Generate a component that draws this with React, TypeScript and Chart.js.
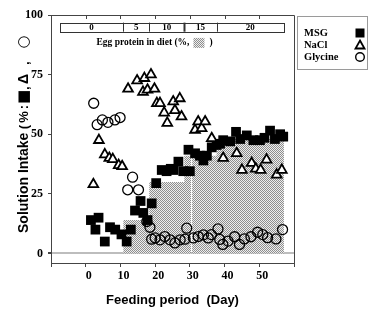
import React, { useEffect, useRef } from 'react';
import { Chart, registerables } from 'chart.js';

Chart.register(...registerables);

// ---- data ----
const msgDays = [1.5, 2.8, 3.7, 5.5, 7, 8.5, 10.3, 11.8, 13, 14.2, 15.8, 16.6, 17.8, 19, 20.3, 21.9, 23.3, 24.5, 25.3, 26.7, 28.1, 29.6, 30, 31.5, 32.9, 33.9, 34.9, 36.3, 37.7, 38.7, 39.6, 41.6, 43.3, 44.5, 46.4, 48.3, 50.2, 51.5, 53.1, 54.5, 56, 56.9];
const msgValues = [14, 10, 15, 5, 11, 10, 8, 5, 10, 18, 22, 17, 14, 21, 29.5, 35, 34.5, 35.5, 35, 38.5, 34.5, 43.5, 34.5, 42, 41, 39, 41, 44.5, 45.5, 46, 47.5, 47, 51, 48, 49.5, 47.5, 47.5, 48.5, 51.5, 48, 50, 49];

const naclDays = [2.2, 3.8, 5.5, 6.8, 7.8, 9.5, 10.5, 12.2, 14.8, 16.5, 16.9, 17.8, 18.8, 19.8, 20.5, 21.4, 22.6, 23.5, 25.2, 25.7, 27.1, 27.6, 31.5, 32.4, 33.4, 34.4, 36.3, 39.6, 43.5, 45, 47.8, 49, 50.4, 52.1, 55, 56.5];
const naclValues = [29, 47.5, 41.5, 40, 39.5, 37, 36.5, 69, 72.5, 67.7, 73.5, 68.6, 75, 69, 63, 63, 59, 54.7, 63.7, 60, 65, 57.4, 51.8, 55.3, 52.5, 55.3, 48.3, 40, 42, 35, 37.9, 35.5, 35, 39.3, 33, 35];

const glyDays = [2.3, 3.3, 4.8, 6.4, 8.4, 9.9, 12.1, 13.5, 15.2, 17.6, 18.5, 19, 20, 21.4, 22.8, 24.3, 25.7, 27.2, 28.6, 29.1, 31, 32.4, 33.9, 35.3, 36.2, 38.1, 38.6, 39.5, 41, 42.9, 44.3, 45.7, 47.6, 49.5, 51, 52.4, 54.8, 56.7];
const glyValues = [63, 54, 56, 55, 56, 57, 26.7, 32, 26.7, 13.4, 11, 6, 6.5, 5.7, 7.1, 5.7, 4.4, 5.7, 6, 10.6, 6.5, 7.1, 7.8, 6.5, 7.9, 10.3, 5.9, 3.8, 5.2, 7, 3.8, 6.1, 7, 8.9, 7.9, 6.6, 6.1, 10];

// egg-protein shading (step outline)
const shadeDays = [10.8, 18.3, 18.3, 28.4, 28.4, 30.4, 30.5, 30.65, 37.7, 37.7, 57.1];
const shadeValues: (number | null)[] = [14, 14, 30, 30, 41, 41, null, 41, 41, 48, 48];

// egg-protein band on top
const bandEdges = [-7.5, 10.8, 18.3, 28.4, 37.7, 57.1];
const bandLabels = ['0', '5', '10', '15', '20'];

const xTicks = [-10, 0, 10, 20, 30, 40, 50, 60];
const xLabelled = [0, 10, 20, 30, 40, 50];
const yTicks = [0, 25, 50, 75, 100];

const legendLabels = ['MSG', 'NaCl', 'Glycine'];

const SERIF = '"Liberation Serif", "Times New Roman", serif';
const SANS = '"Liberation Sans", Arial, sans-serif';

function makePattern(ctx: CanvasRenderingContext2D): CanvasPattern | string {
  const c = document.createElement('canvas');
  c.width = 2;
  c.height = 2;
  const p = c.getContext('2d');
  if (!p) return '#c0c0c0';
  p.fillStyle = '#eeeeee';
  p.fillRect(0, 0, 2, 2);
  p.fillStyle = '#8e8e8e';
  p.fillRect(0, 0, 1, 1);
  p.fillRect(1, 1, 1, 1);
  return ctx.createPattern(c, 'repeat') || '#c0c0c0';
}

export default function App() {
  const ref = useRef<HTMLCanvasElement | null>(null);

  useEffect(() => {
    const canvas = ref.current;
    if (!canvas) return;
    const ctx0 = canvas.getContext('2d')!;
    const pattern = makePattern(ctx0);

    const deco = {
      id: 'deco',
      afterDatasetsDraw(chart: any) {
        const { ctx, chartArea: a, scales } = chart;
        const xs = scales.x;
        const ys = scales.y;
        ctx.save();
        // top and right frame
        ctx.strokeStyle = '#444';
        ctx.lineWidth = 1;
        ctx.beginPath();
        ctx.moveTo(a.left, a.top + 0.5);
        ctx.lineTo(a.right + 0.5, a.top + 0.5);
        ctx.lineTo(a.right + 0.5, a.bottom);
        ctx.stroke();
        // inward ticks on top
        ctx.beginPath();
        xTicks.slice(1, -1).forEach((v) => {
          const px = Math.round(xs.getPixelForValue(v)) + 0.5;
          ctx.moveTo(px, a.top);
          ctx.lineTo(px, a.top + 4);
        });
        ctx.stroke();

        // band
        const bTop = ys.getPixelForValue(96.8);
        const bBot = ys.getPixelForValue(93.0);
        const l = xs.getPixelForValue(bandEdges[0]);
        const r = xs.getPixelForValue(bandEdges[bandEdges.length - 1]);
        ctx.fillStyle = '#fff';
        ctx.fillRect(l, bTop, r - l, bBot - bTop);
        ctx.strokeStyle = '#333';
        ctx.lineWidth = 1;
        ctx.strokeRect(Math.round(l) + 0.5, Math.round(bTop) + 0.5, Math.round(r - l), Math.round(bBot - bTop));
        bandEdges.slice(1, -1).forEach((e, i) => {
          const px = Math.round(xs.getPixelForValue(e)) + 0.5;
          ctx.lineWidth = i === 2 ? 2 : 1;
          ctx.beginPath();
          ctx.moveTo(px, bTop);
          ctx.lineTo(px, bBot);
          ctx.stroke();
        });
        ctx.fillStyle = '#000';
        ctx.font = `bold 9px ${SERIF}`;
        ctx.textAlign = 'center';
        ctx.textBaseline = 'middle';
        bandLabels.forEach((t, i) => {
          const c = (xs.getPixelForValue(bandEdges[i]) + xs.getPixelForValue(bandEdges[i + 1])) / 2;
          ctx.fillText(t, c, (bTop + bBot) / 2 + 0.5);
        });
        // band caption
        ctx.font = `bold 9.5px ${SERIF}`;
        ctx.textAlign = 'left';
        const capY = ys.getPixelForValue(88.3);
        const capX = xs.getPixelForValue(3.1);
        const cap = 'Egg protein in diet (%,';
        ctx.fillText(cap, capX, capY);
        const w = ctx.measureText(cap).width;
        ctx.fillStyle = pattern as any;
        ctx.fillRect(capX + w + 4, capY - 5, 11, 10);
        ctx.fillStyle = '#000';
        ctx.fillText(')', capX + w + 20, capY);
        ctx.restore();
      },
      afterDraw(chart: any) {
        const { ctx, chartArea: a } = chart;
        ctx.save();
        // legend
        ctx.fillStyle = '#fff';
        ctx.fillRect(297, 16, 70, 53);
        ctx.strokeStyle = '#9a9a9a';
        ctx.lineWidth = 1;
        ctx.strokeRect(297.5, 16.5, 70, 53);
        ctx.fillStyle = '#000';
        ctx.font = `bold 10.5px ${SERIF}`;
        ctx.textAlign = 'left';
        ctx.textBaseline = 'middle';
        const rows = [33, 45, 57];
        legendLabels.forEach((t, i) => ctx.fillText(t, 304, rows[i]));
        const mx = 360;
        ctx.fillRect(mx - 4.5, rows[0] - 4.5, 9, 9);
        ctx.lineWidth = 1.8;
        ctx.strokeStyle = '#000';
        ctx.beginPath();
        ctx.moveTo(mx, rows[1] - 4.5);
        ctx.lineTo(mx + 4.5, rows[1] + 3.5);
        ctx.lineTo(mx - 4.5, rows[1] + 3.5);
        ctx.closePath();
        ctx.stroke();
        ctx.lineWidth = 1.4;
        ctx.beginPath();
        ctx.arc(mx, rows[2], 4.3, 0, Math.PI * 2);
        ctx.stroke();

        // axis titles
        ctx.font = `bold 13px ${SANS}`;
        ctx.textAlign = 'center';
        ctx.fillText('Feeding period  (Day)', (a.left + a.right) / 2, 300);

        // y title, rotated; pieces placed along the axis (page y -> rotated x = 233 - y)
        ctx.translate(24, 233);
        ctx.rotate(-Math.PI / 2);
        ctx.textAlign = 'left';
        ctx.font = `bold 14px ${SANS}`;
        ctx.fillText('Solution Intake', 0, 0);
        ctx.textAlign = 'center';
        ctx.font = `bold 13px ${SANS}`;
        ctx.fillText('(', 233 - 127, 0);
        ctx.fillText('%', 233 - 117, 0);
        ctx.fillText(':', 233 - 107, 0);
        ctx.font = `bold 15px "DejaVu Sans", sans-serif`;
        ctx.fillText('■', 233 - 97, 0);
        ctx.font = `bold 12px ${SANS}`;
        ctx.fillText(',', 233 - 88, 2);
        ctx.font = `bold 14px ${SANS}`;
        ctx.fillText('Δ', 233 - 79, 0);
        ctx.font = `bold 12px ${SANS}`;
        ctx.fillText(',', 233 - 63, 2);
        ctx.font = `15px "DejaVu Sans", sans-serif`;
        ctx.fillText('○', 233 - 42, 0);
        ctx.restore();
      },
    };

    const pts = (xs: number[], ys: (number | null)[]) => xs.map((x, i) => ({ x, y: ys[i] }));

    const chart = new Chart(canvas, {
      type: 'scatter',
      data: {
        datasets: [
          {
            label: 'Glycine',
            data: pts(glyDays, glyValues),
            pointStyle: 'circle',
            pointRadius: 5,
            borderColor: '#000',
            backgroundColor: 'rgba(0,0,0,0)',
            borderWidth: 1.3,
            order: 0,
          },
          {
            label: 'NaCl',
            data: pts(naclDays, naclValues),
            pointStyle: 'triangle',
            pointRadius: 5.6,
            borderColor: '#000',
            backgroundColor: '#fff',
            borderWidth: 1.8,
            order: 1,
          },
          {
            label: 'MSG',
            data: pts(msgDays, msgValues),
            pointStyle: 'rect',
            pointRadius: 6.9,
            borderColor: '#000',
            backgroundColor: '#000',
            borderWidth: 0,
            order: 2,
          },
          {
            type: 'line',
            label: 'Egg protein',
            data: pts(shadeDays, shadeValues) as any,
            showLine: true,
            spanGaps: false,
            fill: 'origin',
            backgroundColor: pattern as any,
            borderWidth: 0,
            borderColor: 'rgba(0,0,0,0)',
            pointRadius: 0,
            tension: 0,
            order: 3,
          } as any,
        ],
      },
      options: {
        animation: false,
        responsive: false,
        devicePixelRatio: 1,
        layout: { padding: { top: 15, right: 77, left: 0, bottom: 0 } },
        plugins: { legend: { display: false }, tooltip: { enabled: false } },
        scales: {
          x: {
            type: 'linear',
            min: -10,
            max: 60,
            afterBuildTicks: (s: any) => {
              s.ticks = xTicks.map((v) => ({ value: v }));
            },
            afterFit: (s: any) => {
              s.height = 47;
            },
            ticks: {
              callback: (v: any) => (xLabelled.includes(Number(v)) ? String(v) : ''),
              font: { family: SERIF, size: 12, weight: 'bold' },
              color: '#000',
              padding: 2,
              labelOffset: 3,
              maxRotation: 0,
              autoSkip: false,
            },
            grid: { drawOnChartArea: false, tickColor: '#444', tickLength: 4 },
            border: { display: true, color: '#444', width: 1 },
          },
          y: {
            type: 'linear',
            min: -4,
            max: 100,
            afterBuildTicks: (s: any) => {
              s.ticks = yTicks.map((v) => ({ value: v }));
            },
            afterFit: (s: any) => {
              s.width = 51;
            },
            ticks: {
              font: { family: SERIF, size: 12, weight: 'bold' },
              color: '#000',
              padding: 5,
            },
            grid: {
              drawOnChartArea: true,
              color: (c: any) => (c.tick && c.tick.value === 0 ? '#bdbdbd' : 'rgba(0,0,0,0)'),
              lineWidth: (c: any) => (c.tick && c.tick.value === 0 ? 2 : 1),
              tickColor: '#444',
              tickLength: 3,
            },
            border: { display: true, color: '#444', width: 1 },
          },
        },
      },
      plugins: [deco],
    } as any);

    return () => chart.destroy();
  }, []);

  return (
    <div style={{ position: 'absolute', left: 0, top: 0, width: 371, height: 310, background: '#fff' }}>
      <canvas ref={ref} width={371} height={310} style={{ display: 'block' }} />
    </div>
  );
}
